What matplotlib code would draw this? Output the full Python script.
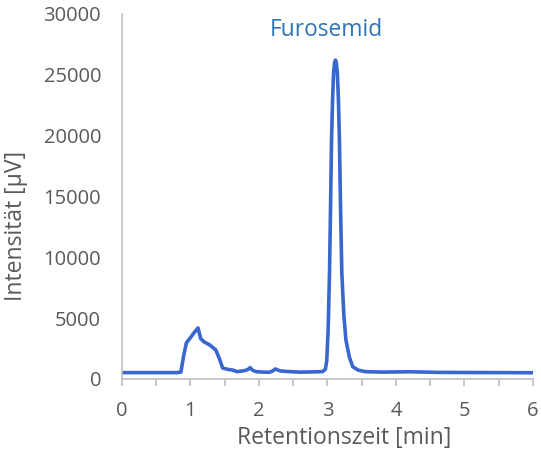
import matplotlib
matplotlib.use("Agg")
import matplotlib.pyplot as plt

# Retention time [min] and intensity [µV]
time_min = [0.00, 0.50, 0.80, 0.86, 0.90, 0.94, 1.00, 1.06, 1.11, 1.15, 1.20, 1.28,
            1.37, 1.42, 1.47, 1.55, 1.61, 1.68, 1.75, 1.80, 1.84, 1.87, 1.91, 1.96,
            2.05, 2.15, 2.20, 2.24, 2.28, 2.32, 2.45, 2.60, 2.80, 2.93, 2.97, 2.99,
            3.01, 3.03, 3.045, 3.06, 3.075, 3.09, 3.105, 3.117, 3.13, 3.145, 3.16,
            3.175, 3.19, 3.21, 3.24, 3.27, 3.32, 3.37, 3.45,
            3.55, 3.80, 4.20, 4.60, 5.00, 5.50, 6.00]
intensity_uv = [520, 520, 520, 560, 1900, 2960, 3400, 3850, 4190, 3300, 3040, 2800,
                2380, 1700, 900, 780, 740, 600, 650, 700, 780, 930, 700, 600,
                560, 550, 650, 820, 720, 650, 600, 560, 580, 600, 800, 1500,
                4000, 8700, 14000, 19650, 23000, 25200, 26000, 26200, 26000, 25100, 23000,
                19650, 14500, 8700, 5200, 3200, 1800, 1000, 720,
                600, 560, 590, 540, 530, 520, 510]

x_ticks = [0, 1, 2, 3, 4, 5, 6]
x_minor = [0.5, 1.5, 2.5, 3.5, 4.5, 5.5]
y_ticks = [0, 5000, 10000, 15000, 20000, 25000, 30000]

plt.rcParams['font.family'] = ['Open Sans', 'DejaVu Sans']
grey = '#595959'
axis_grey = '#BFBFBF'
blue_line = '#3867CF'
title_blue = '#2E75B6'

fig = plt.figure(figsize=(5.41, 4.61), dpi=100)
ax = fig.add_axes([0.2255, 0.178, 0.7595, 0.792])

ax.plot(time_min, intensity_uv, color=blue_line, lw=2.6,
        solid_joinstyle='round', solid_capstyle='round')

ax.set_xlim(0, 6)
ax.set_ylim(0, 30000)
ax.set_xticks(x_ticks)
ax.set_xticks(x_minor, minor=True)
ax.set_yticks(y_ticks)
ax.set_xticklabels([str(v) for v in x_ticks])
ax.set_yticklabels([str(v) for v in y_ticks])

for s in ['top', 'right']:
    ax.spines[s].set_visible(False)
for s in ['left', 'bottom']:
    ax.spines[s].set_color(axis_grey)
    ax.spines[s].set_linewidth(1.2)

ax.tick_params(axis='x', which='both', direction='out', length=5, width=1.2,
               color=axis_grey, labelcolor=grey, labelsize=14.5, pad=11)
ax.tick_params(axis='y', length=0, labelcolor=grey, labelsize=14.5, pad=15)

ax.set_xlabel('Retentionszeit [min]', color=grey, fontsize=16.5)
ax.xaxis.label.set_va('center')
ax.xaxis.set_label_coords(0.541, -0.1616)
ax.set_ylabel('Intensität [µV]', color=grey, fontsize=16.5)
ax.yaxis.label.set_va('center')
ax.yaxis.set_label_coords(-0.2585, 0.419)

ax.text(2.99, 28680, 'Furosemid', color=title_blue, fontsize=16.4,
        ha='center', va='center')

fig.savefig('out.png', dpi=100)
